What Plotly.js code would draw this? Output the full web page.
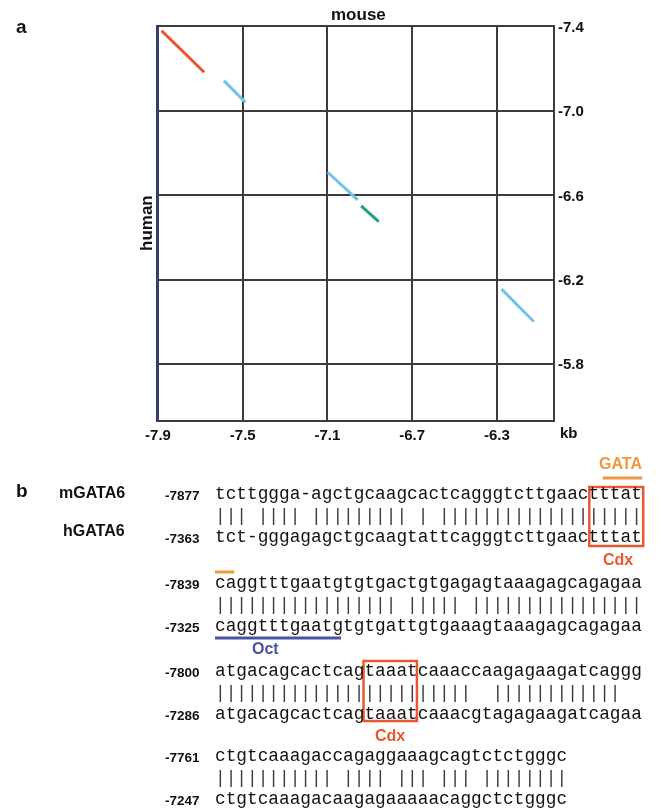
<!DOCTYPE html>
<html>
<head>
<meta charset="utf-8">
<script src="https://cdn.plot.ly/plotly-3.0.1.min.js"></script>
<style>html,body{margin:0;padding:0;background:#fff;}#chart{width:661px;height:809px;will-change:transform;}</style>
</head>
<body>
<div id="chart"></div>
<script>
// ---------- DATA (panel a: dot-plot segments, kb) ----------
const mouseStart = [-7.883, -7.589, -7.099, -6.941, -6.278];
const mouseEnd   = [-7.682, -7.487, -6.957, -6.858, -6.126];
const humanStart = [-7.382, -7.145, -6.710, -6.550, -6.155];
const humanEnd   = [-7.185, -7.042, -6.579, -6.475, -6.001];
const xTickVals = [-7.9, -7.5, -7.1, -6.7, -6.3];
const xTickText = ["-7.9", "-7.5", "-7.1", "-6.7", "-6.3"];
const yTickVals = [-7.4, -7.0, -6.6, -6.2, -5.8];
const yTickText = ["-7.4", "-7.0", "-6.6", "-6.2", "-5.8"];

// ---------- DATA (panel b: alignment) ----------
const mouseSeq = [
  "tcttggga-agctgcaagcactcagggtcttgaactttat",
  "caggtttgaatgtgtgactgtgagagtaaagagcagagaa",
  "atgacagcactcagtaaatcaaaccaagagaagatcaggg",
  "ctgtcaaagaccagaggaaagcagtctctgggc"
];
const humanSeq = [
  "tct-gggagagctgcaagtattcagggtcttgaactttat",
  "caggtttgaatgtgtgattgtgaaagtaaagagcagagaa",
  "atgacagcactcagtaaatcaaacgtagagaagatcagaa",
  "ctgtcaaagacaagagaaaaacaggctctgggc"
];
const mouseStartPos = ["-7877", "-7839", "-7800", "-7761"];
const humanStartPos = ["-7363", "-7325", "-7286", "-7247"];

// ---------- STYLE / LAYOUT ----------
const W = 661, H = 809;
const segColors = ["#e8542c", "#72c3ea", "#72c3ea", "#1f9f8c", "#72c3ea"];
const gridCol = "#3c3c3c";
const px = x => x / W;
const py = y => 1 - y / H;
const seqLeft = 215, charW = 10.68, seqFont = 17.8;
const rowY = [494, 583, 671, 756];
const rowGap = 21.5;
const cx = i => seqLeft + i * charW;   // left edge of char index i

const traces = mouseStart.map((m, i) => ({
  type: "scatter", mode: "lines",
  x: [m, mouseEnd[i]], y: [humanStart[i], humanEnd[i]],
  line: {color: segColors[i], width: 3},
  hoverinfo: "skip", showlegend: false
}));

const nb = s => s.replace(/ /g, "\u00A0");
const pipes = (a, b) => {
  let s = "";
  for (let i = 0; i < a.length; i++) s += (a[i] === b[i] && a[i] !== "-") ? "|" : " ";
  return s;
};

const bold = "Liberation Sans, Arial, sans-serif";
const mono = "Liberation Mono, Courier New, monospace";
const ann = [];
const A = (x, y, text, o) => ann.push(Object.assign({
  xref: "paper", yref: "paper", x: px(x), y: py(y), text: text, showarrow: false,
  xanchor: "center", yanchor: "middle",
  font: {family: bold, size: 15, color: "#111"}
}, o || {}));

// panel a labels
A(21, 26, "<b>a</b>", {font: {family: bold, size: 19, color: "#111"}});
A(358, 14, "<b>mouse</b>", {font: {family: bold, size: 17, color: "#111"}});
A(146, 223, "<b>human</b>", {textangle: -90, font: {family: bold, size: 17, color: "#111"}});
A(569, 432, "<b>kb</b>", {font: {family: bold, size: 15, color: "#111"}});

// panel b labels
A(22, 490, "<b>b</b>", {font: {family: bold, size: 19, color: "#111"}});
A(127, 492, "<b>mGATA6</b>", {xanchor: "right", font: {family: bold, size: 16, color: "#111"}});
A(127, 530, "<b>hGATA6</b>", {xanchor: "right", font: {family: bold, size: 16, color: "#111"}});

for (let r = 0; r < mouseSeq.length; r++) {
  const y0 = rowY[r];
  A(202, y0 + 1, "<b>" + mouseStartPos[r] + "</b>", {xanchor: "right", font: {family: bold, size: 13.5, color: "#111"}});
  A(202, y0 + 2 * rowGap + 1, "<b>" + humanStartPos[r] + "</b>", {xanchor: "right", font: {family: bold, size: 13.5, color: "#111"}});
  A(seqLeft - 2, y0, nb(mouseSeq[r]), {xanchor: "left", align: "left", font: {family: mono, size: seqFont, color: "#111"}});
  A(seqLeft - 2, y0 + rowGap, nb(pipes(mouseSeq[r], humanSeq[r])), {xanchor: "left", align: "left", font: {family: mono, size: seqFont, color: "#3a3a3a"}});
  A(seqLeft - 2, y0 + 2 * rowGap, nb(humanSeq[r]), {xanchor: "left", align: "left", font: {family: mono, size: seqFont, color: "#111"}});
}

const orange = "#f0963c", red = "#e8582f", blue = "#4a52a6";
A(620, 463, "<b>GATA</b>", {font: {family: bold, size: 16, color: orange}});
A(618, 559, "<b>Cdx</b>", {font: {family: bold, size: 16, color: red}});
A(265, 648, "<b>Oct</b>", {font: {family: bold, size: 16, color: blue}});
A(390, 735, "<b>Cdx</b>", {font: {family: bold, size: 16, color: red}});

const shapes = [];
const L = (x0, y0, x1, y1, col, w) => shapes.push({type: "line", xref: "paper", yref: "paper",
  x0: px(x0), y0: py(y0), x1: px(x1), y1: py(y1), line: {color: col, width: w}});
const R = (x0, y0, x1, y1, col, w) => shapes.push({type: "rect", xref: "paper", yref: "paper",
  x0: px(x0), y0: py(y0), x1: px(x1), y1: py(y1), line: {color: col, width: w}});

// left frame edge (dark blue tint)
L(158, 27, 158, 420, "#2f3f85", 2);
// GATA underline + continuation
L(cx(36.3), 478, cx(40), 478, orange, 3);
L(cx(0), 572, cx(1.8), 572, orange, 3);
// Oct underline
L(cx(0), 638, cx(11.8), 638, blue, 3);
// Cdx boxes
R(cx(35) + 0.5, 487, cx(40) + 1, 546, red, 2.5);
R(cx(14) - 1, 661, cx(19) - 1, 721, red, 2.5);

const layout = {
  width: W, height: H,
  margin: {l: 0, r: 0, t: 0, b: 0},
  paper_bgcolor: "#fff", plot_bgcolor: "#fff",
  showlegend: false,
  xaxis: {
    domain: [158 / W, 553 / W],
    range: [-7.9, -6.035],
    tickvals: xTickVals, ticktext: xTickText,
    showgrid: true, gridcolor: gridCol, gridwidth: 2,
    zeroline: false, showline: true, mirror: true, linecolor: gridCol, linewidth: 2,
    ticks: "", tickfont: {family: bold, size: 15, color: "#111", weight: "bold"},
    fixedrange: true
  },
  yaxis: {
    domain: [1 - 420 / H, 1 - 27 / H],
    range: [-5.533, -7.4],
    side: "right",
    tickvals: yTickVals, ticktext: yTickText,
    showgrid: true, gridcolor: gridCol, gridwidth: 2,
    zeroline: false, showline: true, mirror: true, linecolor: gridCol, linewidth: 2,
    ticks: "", tickfont: {family: bold, size: 15, color: "#111", weight: "bold"},
    fixedrange: true
  },
  annotations: ann,
  shapes: shapes
};

Plotly.newPlot("chart", traces, layout, {staticPlot: true, displayModeBar: false});
</script>
</body>
</html>
